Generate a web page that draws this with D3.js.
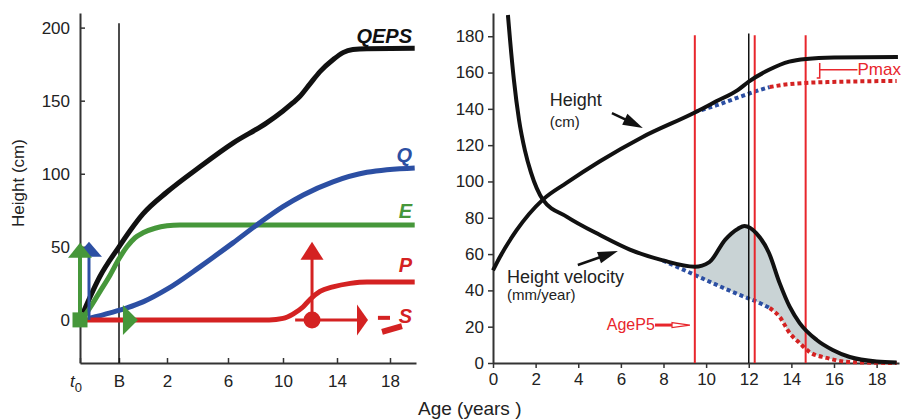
<!DOCTYPE html>
<html lang="en">
    <head>
        <meta charset="utf-8">
        <title>QEPS growth model and height curves</title>
        <script type="text/javascript" src="https://cdn.jsdelivr.net/npm/d3@7"></script>
        <style>
            body { margin: 0; background: #fff; }
            text { font-family: "Liberation Sans", Arial, sans-serif; }
        </style>
    </head>
    <body>
        <script type="text/javascript">

            //Width and height
            var w = 904;
            var h = 419;

            //Left panel: QEPS model components, [age, height cm]
            var qepsData = [[-0.69,4.8],[-0.37,29.5],[0,50],[0.46,61],[1,72.5],[2,87.5],[4.16,104.8],[6.36,121],[8.84,135],[10,143],[10.74,148.6],[11.26,153],[12,161.5],[12.74,169.9],[13.7,178],[14.45,182.9],[15.2,185],[16.26,185.6],[19.9,185.8]];
            var qData = [[-0.577,1],[-0.17,4.8],[0.33,8.2],[1,12.3],[2,21],[4.16,36.3],[6.36,52.7],[8.3,66.4],[10,77.5],[11.5,85.5],[13.7,94.5],[16.26,101],[19.9,104]];
            var eData = [[-0.69,1.4],[-0.56,8.2],[-0.37,19.2],[-0.17,30.8],[0,41.8],[0.33,50],[0.67,56.2],[1,59.6],[1.5,62.7],[2,64.4],[2.85,65],[19.9,65]];
            var pData = [[-0.75,0],[9,0],[10,1],[10.74,4],[11.5,9],[12,14],[12.74,19.5],[13.7,22.6],[15,25],[16.26,26],[19.9,26]];

            //Left x axis: t0, birth, then ages
            var leftTicks = [-0.75, 0, 2, 6, 10, 14, 18];
            var leftTickLabels = ["", "B", "2", "6", "10", "14", "18"];
            var leftYTicks = [0, 50, 100, 150, 200];

            //Right panel: height (cm) and height velocity (mm/year)
            var heightData = [[0,51],[0.33,58.5],[1.1,73],[2.34,90],[3.45,99.2],[5,111],[7,124.4],[9.47,138],[10.45,144],[11.5,150.5],[12,155],[12.95,161.5],[13.9,166],[14.7,167.5],[16,168.3],[19,168.6]];
            var heightPreBlue = [[9.47,138.3],[10.5,142],[11.58,146.6],[12.52,150.4],[12.98,152]];
            var heightPreRed = [[12.98,152],[13.6,153.2],[14.7,154.3],[15.9,154.8],[18.94,155.4]];
            var velocityData = [[0.70,191.7],[0.80,178],[0.98,156],[1.22,134],[1.5,117],[1.78,105],[2.34,90],[3.47,80.5],[5.02,70.5],[6.42,62.5],[7.97,56.5],[9.47,53],[10.15,55.6],[10.9,68],[11.5,74],[11.8,75.5],[12.35,71.6],[12.95,60.6],[13.45,44],[13.92,31],[14.39,22],[15.19,12.7],[15.94,7.2],[16.74,3.3],[18,0.8],[18.94,0.3]];
            var velocityPreBlue = [[7.97,56.5],[9.47,48.5],[10.5,43],[11.58,37.5],[12.52,33],[12.98,30.3]];
            var velocityPreRed = [[12.98,30.3],[13.45,25.4],[13.92,16.5],[14.39,11],[14.86,6],[15.66,2.8],[16.74,0.5],[18.94,0]];

            var markerAges = [9.47, 12.28, 14.67];   //red lines (AgeP5 etc.)
            var peakAge = 12.0;                      //black line
            var rightXTicks = [0,2,4,6,8,10,12,14,16,18];
            var rightYTicks = [0,20,40,60,80,100,120,140,160,180];

            var black = "#111", blue = "#2c4fa3", green = "#46973a", red = "#d42222", lineRed = "#e8262c";

            //Scales
            var xL = d3.scaleLinear()
                        .domain([-0.75, 0, 2, 6, 10, 14, 18, 20])
                        .range([80, 119, 167, 228, 283, 337, 390, 416]);
            var yL = d3.scaleLinear().domain([-29.5, 210]).range([363, 13]);
            var xR = d3.scaleLinear().domain([0, 19.05]).range([493, 899]);
            var yR = d3.scaleLinear().domain([0, 192.8]).range([363, 13]);

            var svg = d3.select("body")
                        .append("svg")
                        .attr("width", w)
                        .attr("height", h);

            var lineL = d3.line()
                        .x(function(d) { return xL(d[0]); })
                        .y(function(d) { return yL(d[1]); })
                        .curve(d3.curveMonotoneX);
            var lineR = d3.line()
                        .x(function(d) { return xR(d[0]); })
                        .y(function(d) { return yR(d[1]); })
                        .curve(d3.curveMonotoneX);

            //Arrow with filled triangular head
            function arrow(g, x1, y1, x2, y2, color, shaftW, headLen, headW, drawShaft, drawHead) {
                var dx = x2 - x1, dy = y2 - y1;
                var len = Math.sqrt(dx * dx + dy * dy);
                var ux = dx / len, uy = dy / len;
                var bx = x2 - ux * headLen, by = y2 - uy * headLen;
                if (drawShaft !== false) {
                    g.append("line")
                        .attr("x1", x1).attr("y1", y1)
                        .attr("x2", bx + ux).attr("y2", by + uy)
                        .attr("stroke", color)
                        .attr("stroke-width", shaftW);
                }
                if (drawHead !== false) {
                    var px = -uy * headW / 2, py = ux * headW / 2;
                    g.append("path")
                        .attr("d", "M" + x2 + "," + y2 + "L" + (bx + px) + "," + (by + py) + "L" + (bx - px) + "," + (by - py) + "Z")
                        .attr("fill", color);
                }
            }

            function styleAxis(g) {
                g.selectAll(".domain").attr("stroke", "#333").attr("stroke-width", 2);
                g.selectAll(".tick line").attr("stroke", "#333").attr("stroke-width", 1.5);
                g.selectAll(".tick text").attr("fill", "#222").attr("font-size", "17px")
                    .attr("font-family", "Liberation Sans, Arial, sans-serif");
            }

            // ---------- Left panel ----------
            var left = svg.append("g");

            var gxL = left.append("g")
                .attr("transform", "translate(0," + yL(-29.5) + ")")
                .call(d3.axisBottom(xL)
                    .tickValues(leftTicks)
                    .tickFormat(function(d, i) { return leftTickLabels[i]; })
                    .tickSize(-5).tickSizeOuter(0).tickPadding(12));
            styleAxis(gxL);

            var gyL = left.append("g")
                .attr("transform", "translate(" + xL(-0.75) + ",0)")
                .call(d3.axisLeft(yL)
                    .tickValues(leftYTicks)
                    .tickSize(-5).tickSizeOuter(0).tickPadding(10));
            styleAxis(gyL);

            //t0 label with subscript
            var t0 = left.append("text")
                .attr("x", xL(-0.75) - 10)
                .attr("y", 387)
                .attr("font-size", "17px")
                .attr("fill", "#222");
            t0.append("tspan").attr("font-style", "italic").text("t");
            t0.append("tspan").attr("font-size", "13px").attr("dy", 5).text("0");

            //birth line
            left.append("line")
                .attr("x1", xL(0)).attr("x2", xL(0))
                .attr("y1", yL(203)).attr("y2", yL(-29.5))
                .attr("stroke", black).attr("stroke-width", 1.5);

            //Y axis title
            left.append("text")
                .attr("transform", "translate(24," + 183 + ") rotate(-90)")
                .attr("text-anchor", "middle")
                .attr("font-size", "17px")
                .attr("fill", "#222")
                .text("Height (cm)");

            //green horizontal shaft sits under the red P line
            arrow(left, xL(-0.75), yL(0), xL(0.79), yL(0), green, 3, 15, 30, true, false);

            left.append("path").datum(qepsData).attr("d", lineL)
                .attr("fill", "none").attr("stroke", black).attr("stroke-width", 5);
            left.append("path").datum(eData).attr("d", lineL)
                .attr("fill", "none").attr("stroke", green).attr("stroke-width", 5);
            left.append("path").datum(qData).attr("d", lineL)
                .attr("fill", "none").attr("stroke", blue).attr("stroke-width", 5);
            left.append("path").datum(pData).attr("d", lineL)
                .attr("fill", "none").attr("stroke", red).attr("stroke-width", 5);

            //onset arrows
            arrow(left, xL(-0.577), yL(0), xL(-0.577), yL(53.4), blue, 3, 15, 26);
            arrow(left, xL(-0.75), yL(0), xL(-0.75), yL(52.7), green, 4, 15, 24);
            arrow(left, xL(-0.75), yL(0), xL(0.79), yL(0), green, 3, 15, 30, false, true);
            left.append("rect")
                .attr("x", xL(-0.75) - 7.5).attr("y", yL(0) - 7.5)
                .attr("width", 15).attr("height", 15)
                .attr("fill", green);

            arrow(left, xL(12.15), yL(0), xL(12.15), yL(53.4), red, 3, 18, 23);
            arrow(left, xL(10.9), yL(0), xL(16.34), yL(0), red, 3, 11, 31);
            left.append("circle")
                .attr("cx", xL(12.15)).attr("cy", yL(0)).attr("r", 8.5)
                .attr("fill", red);

            //S marks
            left.append("line")
                .attr("x1", xL(17.09)).attr("y1", yL(1.4))
                .attr("x2", xL(18.0)).attr("y2", yL(1.4))
                .attr("stroke", red).attr("stroke-width", 4);
            left.append("line")
                .attr("x1", xL(17.4)).attr("y1", yL(-8.2))
                .attr("x2", xL(18.92)).attr("y2", yL(-4.3))
                .attr("stroke", red).attr("stroke-width", 6);

            //curve labels
            var curveLabels = [
                {t: "QEPS", c: black, v: 185.8, off: -5},
                {t: "Q", c: blue, v: 104, off: -6},
                {t: "E", c: green, v: 65, off: -7},
                {t: "P", c: red, v: 26, off: -10},
                {t: "S", c: red, v: 0, off: 3}
            ];
            left.selectAll("text.clab")
                .data(curveLabels)
                .enter()
                .append("text")
                .attr("class", "clab")
                .attr("x", 412)
                .attr("y", function(d) { return yL(d.v) + d.off; })
                .attr("text-anchor", "end")
                .attr("font-size", "20px")
                .attr("font-weight", "bold")
                .attr("font-style", "italic")
                .attr("fill", function(d) { return d.c; })
                .text(function(d) { return d.t; });

            //shared x title
            svg.append("text")
                .attr("x", 418)
                .attr("y", 415)
                .attr("font-size", "19px")
                .attr("fill", "#222")
                .text("Age (years )");

            // ---------- Right panel ----------
            var right = svg.append("g");

            //pubertal contribution area
            var velSeg = velocityData.filter(function(d) { return d[0] >= 9.47 && d[0] <= 16.8; });
            var preSeg = velocityPreBlue.concat(velocityPreRed.slice(1))
                            .filter(function(d) { return d[0] >= 9.47 && d[0] <= 16.8; })
                            .reverse();
            var areaPath = lineR(velSeg) + "L" + lineR(preSeg).slice(1) + "Z";
            right.append("path")
                .attr("d", areaPath)
                .attr("fill", "#c9d3d5");

            var gxR = right.append("g")
                .attr("transform", "translate(0," + yR(0) + ")")
                .call(d3.axisBottom(xR).tickValues(rightXTicks).tickSize(5).tickSizeOuter(0).tickPadding(5));
            styleAxis(gxR);
            var gyR = right.append("g")
                .attr("transform", "translate(" + xR(0) + ",0)")
                .call(d3.axisLeft(yR).tickValues(rightYTicks).tickSize(5).tickSizeOuter(0).tickPadding(4));
            styleAxis(gyR);

            //dotted prepubertal curves
            var dotted = [
                {d: heightPreBlue, c: blue}, {d: heightPreRed, c: red},
                {d: velocityPreBlue, c: blue}, {d: velocityPreRed, c: red}
            ];
            dotted.forEach(function(s) {
                right.append("path").datum(s.d).attr("d", lineR)
                    .attr("fill", "none")
                    .attr("stroke", s.c)
                    .attr("stroke-width", 4)
                    .attr("stroke-dasharray", "4,3");
            });

            //vertical marker lines
            right.selectAll("line.marker")
                .data(markerAges)
                .enter()
                .append("line")
                .attr("class", "marker")
                .attr("x1", function(d) { return xR(d); })
                .attr("x2", function(d) { return xR(d); })
                .attr("y1", yR(180.5))
                .attr("y2", yR(0))
                .attr("stroke", lineRed)
                .attr("stroke-width", 2);
            right.append("line")
                .attr("x1", xR(peakAge)).attr("x2", xR(peakAge))
                .attr("y1", yR(181.5)).attr("y2", yR(0))
                .attr("stroke", black).attr("stroke-width", 1.5);

            right.append("path").datum(heightData).attr("d", lineR)
                .attr("fill", "none").attr("stroke", black).attr("stroke-width", 4);
            right.append("path").datum(velocityData).attr("d", lineR)
                .attr("fill", "none").attr("stroke", black).attr("stroke-width", 4);

            //Height label and arrow
            right.append("text")
                .attr("x", xR(2.66)).attr("y", yR(141.5))
                .attr("font-size", "18px").attr("fill", "#222")
                .text("Height");
            right.append("text")
                .attr("x", xR(2.66)).attr("y", yR(129.9))
                .attr("font-size", "15px").attr("fill", "#222")
                .text("(cm)");
            arrow(right, xR(5.58), yR(137.7), xR(7.03), yR(129.5), black, 2.5, 20, 12);

            //Height velocity label and arrow
            right.append("text")
                .attr("x", xR(0.66)).attr("y", yR(44))
                .attr("font-size", "18px").attr("fill", "#222")
                .text("Height velocity");
            right.append("text")
                .attr("x", xR(0.66)).attr("y", yR(34.7))
                .attr("font-size", "15px").attr("fill", "#222")
                .text("(mm/year)");
            arrow(right, xR(3.98), yR(54), xR(5.86), yR(61.7), black, 2.5, 20, 12);

            //AgeP5 label with hollow arrow
            right.append("text")
                .attr("x", xR(5.34)).attr("y", yR(18.2))
                .attr("font-size", "16px").attr("fill", lineRed)
                .text("AgeP5");
            right.append("line")
                .attr("x1", xR(7.6)).attr("x2", xR(8.45))
                .attr("y1", yR(20.9)).attr("y2", yR(20.9))
                .attr("stroke", lineRed).attr("stroke-width", 3);
            right.append("path")
                .attr("d", "M" + xR(8.4) + "," + (yR(20.9) - 2.5) + "L" + xR(9.24) + "," + yR(20.9) + "L" + xR(8.4) + "," + (yR(20.9) + 2.5) + "Z")
                .attr("fill", "#fff").attr("stroke", lineRed).attr("stroke-width", 1.2);

            //Pmax bracket
            right.append("path")
                .attr("d", "M" + xR(15.33) + "," + yR(165.3) + "L" + xR(15.33) + "," + yR(157) + "L" + (xR(15.33) - 3) + "," + yR(157))
                .attr("fill", "none").attr("stroke", lineRed).attr("stroke-width", 1.5);
            right.append("line")
                .attr("x1", xR(15.33)).attr("x2", xR(17.1))
                .attr("y1", yR(161.6)).attr("y2", yR(161.6))
                .attr("stroke", lineRed).attr("stroke-width", 1.5);
            right.append("text")
                .attr("x", xR(17.1)).attr("y", yR(158.7))
                .attr("font-size", "17px").attr("fill", lineRed)
                .text("Pmax");

        </script>
    </body>
</html>
